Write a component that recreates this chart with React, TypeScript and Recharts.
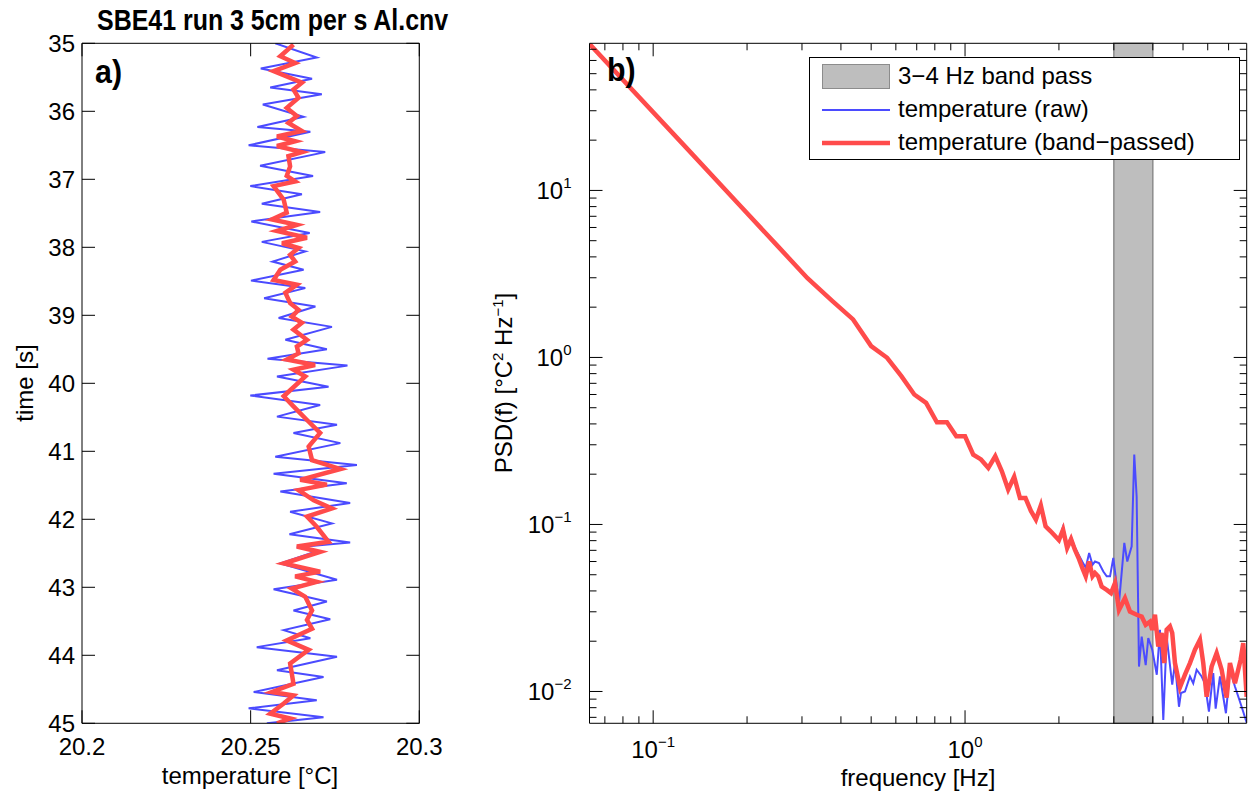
import React from 'react';
import { LineChart, ComposedChart, Line, XAxis, YAxis, ReferenceArea, Legend } from 'recharts';

const FONT = '"Liberation Sans", Arial, Helvetica, sans-serif';
const BLUE = '#4b4bff';
const RED = '#ff4b4b';

// ---- panel a) temperature time series, 35-45 s ----
const timeRaw = [
  35.0, 35.21, 35.37, 35.52, 35.65, 35.75, 35.9, 36.08, 36.23, 36.3,
  36.5, 36.6, 36.8, 36.95, 37.1, 37.22, 37.36, 37.48, 37.62, 37.79,
  37.92, 38.06, 38.21, 38.33, 38.49, 38.6, 38.75, 38.87, 39.04, 39.17,
  39.36, 39.5, 39.64, 39.74, 39.9, 40.05, 40.18, 40.32, 40.49, 40.61,
  40.73, 40.88, 41.08, 41.2, 41.33, 41.47, 41.59, 41.76, 41.89, 42.06,
  42.22, 42.34, 42.41, 42.47, 42.65, 42.89, 43.03, 43.21, 43.34, 43.47,
  43.63, 43.75, 43.88, 44.02, 44.22, 44.32, 44.54, 44.66, 44.78, 44.91,
  45.0,
];
const tempRaw = [
  20.2573, 20.2696, 20.253, 20.2682, 20.2558, 20.2711, 20.2536, 20.2657, 20.252, 20.2677,
  20.2494, 20.2721, 20.2528, 20.2685, 20.2499, 20.2652, 20.2533, 20.2706, 20.2502, 20.2675,
  20.2533, 20.2662, 20.2565, 20.2657, 20.2501, 20.2662, 20.254, 20.2692, 20.2583, 20.2741,
  20.2603, 20.2726, 20.255, 20.2787, 20.2578, 20.2731, 20.2499, 20.2706, 20.2578, 20.2756,
  20.2627, 20.2766, 20.2573, 20.2815, 20.2568, 20.2785, 20.2588, 20.2795, 20.2617, 20.2741,
  20.2615, 20.2795, 20.2637, 20.2696, 20.2588, 20.2756, 20.2568, 20.2726, 20.2627, 20.2736,
  20.2598, 20.2677, 20.2518, 20.2756, 20.2578, 20.2716, 20.2509, 20.2696, 20.2494, 20.2716,
  20.2548,
];
const timeBand = [
  35.02, 35.19, 35.29, 35.41, 35.58, 35.68, 35.8, 35.95, 36.07, 36.17,
  36.29, 36.37, 36.44, 36.51, 36.6, 36.66, 36.81, 36.95, 37.03, 37.1,
  37.3, 37.49, 37.59, 37.67, 37.76, 37.86, 37.94, 38.01, 38.11, 38.21,
  38.33, 38.48, 38.55, 38.67, 38.82, 38.92, 39.02, 39.11, 39.21, 39.36,
  39.46, 39.56, 39.65, 39.73, 39.8, 39.9, 40.19, 40.34, 40.54, 40.73,
  40.93, 41.13, 41.26, 41.42, 41.49, 41.57, 41.72, 41.84, 41.96, 42.11,
  42.33, 42.4, 42.48, 42.65, 42.77, 42.84, 42.92, 43.02, 43.14, 43.34,
  43.48, 43.61, 43.78, 43.92, 44.12, 44.27, 44.42, 44.54, 44.59, 44.71,
  44.86, 44.93, 45.0,
];
const tempBand = [
  20.2627, 20.2588, 20.2632, 20.2568, 20.2652, 20.2627, 20.2642, 20.2607, 20.2637, 20.2612,
  20.2652, 20.2578, 20.2632, 20.2578, 20.2652, 20.2612, 20.2617, 20.2607, 20.2632, 20.2568,
  20.2598, 20.2607, 20.2563, 20.2637, 20.2578, 20.2667, 20.2593, 20.2642, 20.2617, 20.2632,
  20.2588, 20.2568, 20.2637, 20.2603, 20.2617, 20.2642, 20.2622, 20.2652, 20.2627, 20.2667,
  20.2637, 20.2642, 20.2607, 20.2691, 20.2627, 20.2662, 20.2598, 20.2627, 20.2667, 20.2706,
  20.2672, 20.2682, 20.2766, 20.2647, 20.2726, 20.2642, 20.2687, 20.2741, 20.2667, 20.2696,
  20.2731, 20.2637, 20.2706, 20.2598, 20.2706, 20.2632, 20.2696, 20.2622, 20.2662, 20.2682,
  20.2667, 20.2682, 20.2607, 20.2672, 20.2617, 20.2622, 20.2627, 20.2563, 20.2627, 20.2598,
  20.2558, 20.2617, 20.2578,
];
const tempTicks = [20.2, 20.25, 20.3];
const timeTicks = [35, 36, 37, 38, 39, 40, 41, 42, 43, 44, 45];

// ---- panel b) spectra ----
const freqLow = [
  0.0625, 0.125, 0.1875, 0.25, 0.3125, 0.375, 0.4375, 0.5, 0.5625, 0.625, 0.6875,
  0.75, 0.8125, 0.875, 0.9375, 1.0, 1.0625, 1.125, 1.1875, 1.25, 1.3125, 1.375,
  1.4375, 1.5, 1.5625, 1.625, 1.6875, 1.75, 1.8125, 1.875, 1.9375, 2.0,
];
const psdLow = [
  75.3, 18.8, 8.32, 4.67, 2.98, 2.18, 1.69, 1.17, 0.995, 0.773, 0.6,
  0.535, 0.409, 0.409, 0.337, 0.337, 0.262, 0.245, 0.218, 0.256, 0.208, 0.162,
  0.193, 0.144, 0.144, 0.121, 0.107, 0.13, 0.0975, 0.0916, 0.0858, 0.0805,
];
const freqMid = [2.0625, 2.125, 2.1875, 2.25, 2.3125, 2.375, 2.4375, 2.5, 2.5625];
const psdMidRaw = [0.097, 0.075, 0.084, 0.073, 0.066, 0.06, 0.055, 0.0675, 0.0574];
const psdMidBand = [0.0931, 0.0723, 0.0818, 0.0706, 0.063, 0.0551, 0.0489, 0.06, 0.0489];
const freqTailRaw = [
  2.61, 2.688, 2.776, 2.846, 2.917, 2.988, 3.116, 3.241, 3.313, 3.422, 3.488, 3.55,
  3.612, 3.685, 3.795, 3.868, 3.983, 4.119, 4.217, 4.322, 4.43, 4.617, 4.711, 4.853,
  4.925, 5.072, 5.262, 5.392, 5.529, 5.737, 5.876, 6.054, 6.25, 6.362, 6.568, 6.863,
  7.07, 7.335, 7.707, 8.0,
];
const psdTailRaw = [
  0.06, 0.0588, 0.0523, 0.0489, 0.0489, 0.063, 0.0338, 0.0775, 0.06, 0.0739, 0.262, 0.147,
  0.0141, 0.0213, 0.0144, 0.0209, 0.0178, 0.0126, 0.0234, 0.00676, 0.0213, 0.011, 0.0148, 0.0081,
  0.0098, 0.01, 0.0123, 0.0112, 0.0135, 0.0123, 0.0112, 0.00757, 0.0129, 0.0079, 0.0123, 0.00741,
  0.0135, 0.0107, 0.0081, 0.0065,
];
const freqTailBand = [
  2.61, 2.674, 2.742, 2.846, 2.938, 3.026, 3.116, 3.257, 3.379, 3.55, 3.685, 3.795,
  3.916, 3.983, 4.064, 4.165, 4.269, 4.352, 4.43, 4.54, 4.617, 4.711, 4.889, 5.072,
  5.262, 5.46, 5.665, 5.805, 5.953, 6.176, 6.408, 6.649, 6.9, 7.07, 7.335, 7.65,
  7.8, 8.0,
];
const psdTailBand = [
  0.0512, 0.0489, 0.0425, 0.0406, 0.0388, 0.0446, 0.0308, 0.0362, 0.0301, 0.0288, 0.0281, 0.0251,
  0.0262, 0.0234, 0.0288, 0.0186, 0.0224, 0.0148, 0.0234, 0.0245, 0.0224, 0.0148, 0.0106, 0.0126,
  0.0148, 0.0178, 0.0204, 0.0148, 0.0093, 0.0141, 0.017, 0.0135, 0.0092, 0.0148, 0.0112, 0.0155,
  0.0195, 0.0093,
];
const freqMajor = [0.1, 1];
const freqMinor = [0.07, 0.08, 0.09, 0.2, 0.3, 0.4, 0.5, 0.6, 0.7, 0.8, 0.9, 2, 3, 4, 5, 6, 7];
const psdMajor = [0.01, 0.1, 1, 10];
const psdMinor = [
  0.007, 0.008, 0.009, 0.02, 0.03, 0.04, 0.05, 0.06, 0.07, 0.08, 0.09,
  0.2, 0.3, 0.4, 0.5, 0.6, 0.7, 0.8, 0.9, 2, 3, 4, 5, 6, 7, 8, 9, 20, 30, 40, 50, 60, 70,
];
const bandPass = [3, 4];

const rawTemp = timeRaw.map((t, i) => ({ t, T: tempRaw[i] }));
const bandTemp = timeBand.map((t, i) => ({ t, T: tempBand[i] }));
const rawSpec = [
  ...freqLow.map((f, i) => ({ f, p: psdLow[i] })),
  ...freqMid.map((f, i) => ({ f, p: psdMidRaw[i] })),
  ...freqTailRaw.map((f, i) => ({ f, p: psdTailRaw[i] })),
];
const bandSpec = [
  ...freqLow.map((f, i) => ({ f, p: psdLow[i] })),
  ...freqMid.map((f, i) => ({ f, p: psdMidBand[i] })),
  ...freqTailBand.map((f, i) => ({ f, p: psdTailBand[i] })),
];

type Side = 'bottom' | 'top' | 'left' | 'right';

// matlab style ticks: pointing inward, labels only on majors
function makeTick(side: Side, majors: number[], label?: (v: number, x: number, y: number) => React.ReactNode) {
  return (props: any) => {
    const { x, y, payload } = props;
    const v = payload.value;
    const major = majors.some((m) => Math.abs(m - v) <= Math.abs(m) * 1e-6);
    const len = major ? 13 : 7;
    let x2 = x;
    let y2 = y;
    if (side === 'bottom') y2 = y - len;
    if (side === 'top') y2 = y + len;
    if (side === 'left') x2 = x + len;
    if (side === 'right') x2 = x - len;
    return (
      <g>
        <line x1={x} y1={y} x2={x2} y2={y2} stroke="#000" strokeWidth={1} />
        {major && label ? label(v, x, y) : null}
      </g>
    );
  };
}

const expText = (v: number) => {
  const e = Math.round(Math.log10(v));
  return e < 0 ? '\u2212' + Math.abs(e) : String(e);
};

const tempLabel = (v: number, x: number, y: number) => (
  <text x={x} y={y + 32} textAnchor="middle" fontSize={24} fontFamily={FONT} fill="#000">{String(v)}</text>
);
const timeLabel = (v: number, x: number, y: number) => (
  <text x={x - 7} y={y + 8.5} textAnchor="end" fontSize={24} fontFamily={FONT} fill="#000">{String(v)}</text>
);
const freqLabel = (v: number, x: number, y: number) => (
  <text x={x} y={y + 35} textAnchor="middle" fontSize={24} fontFamily={FONT} fill="#000">
    <tspan>10</tspan>
    <tspan dy={-11} fontSize={15}>{expText(v)}</tspan>
  </text>
);
const psdLabel = (v: number, x: number, y: number) => (
  <text x={x - 18} y={y + 9} textAnchor="end" fontSize={24} fontFamily={FONT} fill="#000">
    <tspan>10</tspan>
    <tspan dy={-11} fontSize={15}>{expText(v)}</tspan>
  </text>
);

const axisLine = { stroke: '#000', strokeWidth: 1 };
const THIN = 0.01; // axes need a size > 0 to render

const LegendBox = () => (
  <div
    style={{
      width: 429,
      height: 101,
      border: '1px solid #000',
      background: '#fff',
      fontFamily: FONT,
      fontSize: 24,
      color: '#000',
      position: 'relative',
    }}
  >
    <div style={{ position: 'absolute', left: 12, top: 6, width: 68, height: 25, background: '#bebebe', border: '1px solid #8c8c8c', boxSizing: 'border-box' }} />
    <svg style={{ position: 'absolute', left: 12, top: 40 }} width={70} height={24}>
      <line x1={0} y1={12} x2={68} y2={12} stroke={BLUE} strokeWidth={2} />
    </svg>
    <svg style={{ position: 'absolute', left: 12, top: 73 }} width={70} height={24}>
      <line x1={0} y1={12} x2={68} y2={12} stroke={RED} strokeWidth={4.5} />
    </svg>
    <div style={{ position: 'absolute', left: 88, top: 4, lineHeight: '28px', whiteSpace: 'nowrap' }}>3{'\u2212'}4 Hz band pass</div>
    <div style={{ position: 'absolute', left: 88, top: 37, lineHeight: '28px', whiteSpace: 'nowrap' }}>temperature (raw)</div>
    <div style={{ position: 'absolute', left: 88, top: 70, lineHeight: '28px', whiteSpace: 'nowrap' }}>temperature (band{'\u2212'}passed)</div>
  </div>
);

const text = (style: React.CSSProperties): React.CSSProperties => ({
  position: 'absolute',
  fontFamily: FONT,
  color: '#000',
  whiteSpace: 'nowrap',
  lineHeight: 1,
  ...style,
});

export default function App() {
  return (
    <div style={{ position: 'absolute', left: 0, top: 0, width: 1250, height: 800, background: '#fff', overflow: 'hidden' }}>
      {/* panel a */}
      <div style={{ position: 'absolute', left: 0, top: 0 }}>
        <LineChart
          width={470}
          height={800}
          layout="vertical"
          margin={{ top: 43.3, right: 50.7, bottom: 76.7, left: 82 }}
        >
          <XAxis xAxisId="b" type="number" domain={[20.2, 20.3]} allowDataOverflow ticks={tempTicks} interval={0}
            height={THIN} tickSize={0} tickMargin={0} tickLine={false} axisLine={axisLine} tick={makeTick('bottom', tempTicks, tempLabel)} />
          <XAxis xAxisId="t" orientation="top" type="number" domain={[20.2, 20.3]} allowDataOverflow ticks={tempTicks} interval={0}
            height={THIN} tickSize={0} tickMargin={0} tickLine={false} axisLine={axisLine} tick={makeTick('top', tempTicks)} />
          <YAxis yAxisId="l" type="number" dataKey="t" domain={[35, 45]} allowDataOverflow ticks={timeTicks} interval={0}
            width={THIN} tickSize={0} tickMargin={0} tickLine={false} axisLine={axisLine} tick={makeTick('left', timeTicks, timeLabel)} />
          <YAxis yAxisId="r" orientation="right" type="number" dataKey="t" domain={[35, 45]} allowDataOverflow ticks={timeTicks} interval={0}
            width={THIN} tickSize={0} tickMargin={0} tickLine={false} axisLine={axisLine} tick={makeTick('right', timeTicks)} />
          <Line xAxisId="b" yAxisId="l" data={rawTemp} dataKey="T" stroke={BLUE} strokeWidth={2} dot={false} isAnimationActive={false} />
          <Line xAxisId="b" yAxisId="l" data={bandTemp} dataKey="T" stroke={RED} strokeWidth={4.5} dot={false} isAnimationActive={false} />
        </LineChart>
      </div>

      {/* panel b */}
      <div style={{ position: 'absolute', left: 470, top: 0 }}>
        <ComposedChart width={780} height={800} margin={{ top: 43.3, right: 3.3, bottom: 76.7, left: 119.5 }}>
          <XAxis xAxisId="b" dataKey="f" type="number" scale="log" domain={[0.0625, 8]} allowDataOverflow
            ticks={[...freqMajor, ...freqMinor]} interval={0} height={THIN} tickSize={0} tickMargin={0} tickLine={false}
            axisLine={axisLine} tick={makeTick('bottom', freqMajor, freqLabel)} />
          <XAxis xAxisId="t" orientation="top" dataKey="f" type="number" scale="log" domain={[0.0625, 8]} allowDataOverflow
            ticks={[...freqMajor, ...freqMinor]} interval={0} height={THIN} tickSize={0} tickMargin={0} tickLine={false}
            axisLine={axisLine} tick={makeTick('top', freqMajor)} />
          <YAxis yAxisId="l" type="number" scale="log" domain={[0.00645, 76]} allowDataOverflow
            ticks={[...psdMajor, ...psdMinor]} interval={0} width={THIN} tickSize={0} tickMargin={0} tickLine={false}
            axisLine={axisLine} tick={makeTick('left', psdMajor, psdLabel)} />
          <YAxis yAxisId="r" orientation="right" type="number" scale="log" domain={[0.00645, 76]} allowDataOverflow
            ticks={[...psdMajor, ...psdMinor]} interval={0} width={THIN} tickSize={0} tickMargin={0} tickLine={false}
            axisLine={axisLine} tick={makeTick('right', psdMajor)} />
          <ReferenceArea xAxisId="b" yAxisId="l" x1={bandPass[0]} x2={bandPass[1]} fill="#bebebe" fillOpacity={1}
            stroke="#8c8c8c" strokeWidth={1.5} />
          <Line xAxisId="b" yAxisId="l" data={rawSpec} dataKey="p" stroke={BLUE} strokeWidth={2} dot={false} isAnimationActive={false} />
          <Line xAxisId="b" yAxisId="l" data={bandSpec} dataKey="p" stroke={RED} strokeWidth={4.5} dot={false} isAnimationActive={false} />
          <Legend verticalAlign="middle" layout="horizontal" wrapperStyle={{ left: 809 - 470, top: 57, width: 431, height: 103 }}
            content={() => <LegendBox />} />
        </ComposedChart>
      </div>

      {/* texts */}
      <div style={text({ left: 97, top: 6, fontSize: 29, fontWeight: 'bold', transform: 'scaleX(0.86)', transformOrigin: 'left top' })}>
        SBE41 run 3 5cm per s Al.cnv
      </div>
      <div style={text({ left: 95, top: 55, fontSize: 33, fontWeight: 'bold', transform: 'scaleX(0.92)', transformOrigin: 'left top' })}>a)</div>
      <div style={text({ left: 607, top: 53, fontSize: 33, fontWeight: 'bold', transform: 'scaleX(0.92)', transformOrigin: 'left top' })}>b)</div>
      <div style={text({ left: 250, top: 776, fontSize: 24, transform: 'translate(-50%, -50%)' })}>temperature [°C]</div>
      <div style={text({ left: 918, top: 778, fontSize: 24, transform: 'translate(-50%, -50%)' })}>frequency [Hz]</div>
      <div style={text({ left: 25, top: 383, fontSize: 24, transform: 'translate(-50%, -50%) rotate(-90deg)' })}>time [s]</div>
      <div style={text({ left: 503, top: 383, fontSize: 24, transform: 'translate(-50%, -50%) rotate(-90deg)' })}>
        PSD(f) [°C<sup style={{ fontSize: 15 }}>2</sup> Hz<sup style={{ fontSize: 15 }}>{'\u2212'}1</sup>]
      </div>
    </div>
  );
}
